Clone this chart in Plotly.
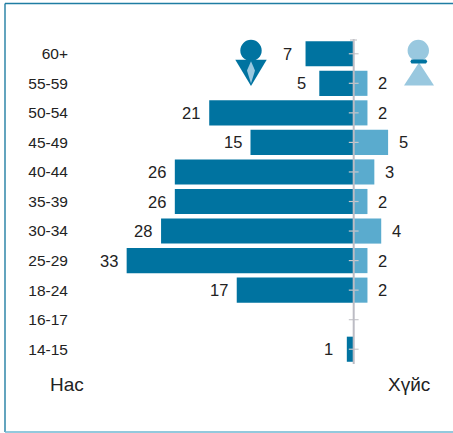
import plotly.graph_objects as go

ages = ["60+", "55-59", "50-54", "45-49", "40-44", "35-39", "30-34", "25-29", "18-24", "16-17", "14-15"]
male = [7, 5, 21, 15, 26, 26, 28, 33, 17, 0, 1]
female = [0, 2, 2, 5, 3, 2, 4, 2, 2, 0, 0]

W, H = 453, 433
PL = 72
X0 = 353.7
SCALE = 6.88
TOP, BOT = 38.5, 364
DARK, MID, LIGHT = "#0073a0", "#5aabce", "#99c8df"
TXT = "#222222"
FONT = "Liberation Sans, Arial, sans-serif"


def px(x):
    return (x - PL) / (W - PL)


def py(y):
    return (BOT - y) / (BOT - TOP)


def path(points):
    return "M " + " L ".join(f"{px(a):.5f},{py(b):.5f}" for a, b in points) + " Z"


fig = go.Figure()
fig.add_bar(y=ages, x=[-v for v in male], orientation="h", marker=dict(color=DARK, line=dict(width=0)), width=0.85, hoverinfo="skip")
fig.add_bar(y=ages, x=female, orientation="h", marker=dict(color=MID, line=dict(width=0)), width=0.85, hoverinfo="skip")
fig.add_scatter(y=ages, x=[0] * len(ages), mode="markers", marker=dict(symbol="line-ew", size=7, line=dict(color="#c8c8cc", width=1.2)), hoverinfo="skip")

P = dict(xref="paper", yref="paper")
shapes = []
shapes.append(dict(type="line", xref="x", yref="paper", x0=0, x1=0, y0=py(BOT), y1=py(TOP), line=dict(color="#bcbcc4", width=2), layer="above"))
shapes.append(dict(type="line", **P, x0=px(350), x1=px(357), y0=py(39.5), y1=py(39.5), line=dict(color="#c8c8cc", width=1.2)))
# male icon
shapes.append(dict(type="circle", **P, x0=px(240.3), x1=px(261.7), y0=py(60.7), y1=py(39.3), fillcolor=DARK, line_width=0))
shapes.append(dict(type="path", **P, path=path([(235.3, 59.3), (266.7, 59.3), (251, 85.5)]), fillcolor=DARK, line_width=0))
shapes.append(dict(type="path", **P, path=path([(251, 60.7), (255, 70), (251, 83), (247, 70)]), fillcolor=LIGHT, line_width=0))
# female icon
shapes.append(dict(type="circle", **P, x0=px(407.6), x1=px(429), y0=py(60.7), y1=py(39.3), fillcolor=LIGHT, line_width=0))
shapes.append(dict(type="path", **P, path=path([(419, 62), (434, 85), (404, 85)]), fillcolor=LIGHT, line_width=0))
shapes.append(dict(type="path", **P, path=path([(411.5, 59), (426, 59), (427.3, 61), (426, 63), (411.5, 63), (410.3, 61)]), fillcolor=DARK, line_width=0))
# frame
shapes.append(dict(type="line", **P, x0=px(5), x1=px(5), y0=py(432), y1=py(3), line=dict(color="#2f86a8", width=1.5)))
shapes.append(dict(type="line", **P, x0=px(5), x1=px(453), y0=py(3), y1=py(3), line=dict(color="#1f7da3", width=1.5)))
shapes.append(dict(type="line", **P, x0=px(5), x1=px(453), y0=py(432), y1=py(432), line=dict(color="#6fb7d2", width=1.5)))

annotations = []
for a, v in zip(ages, male):
    if v:
        annotations.append(dict(x=-v, y=a, text=str(v), showarrow=False, xanchor="center", xshift=-18, font=dict(size=16.5, color=TXT, family=FONT)))
for a, v in zip(ages, female):
    if v:
        annotations.append(dict(x=v, y=a, text=str(v), showarrow=False, xanchor="center", xshift=15, font=dict(size=16.5, color=TXT, family=FONT)))
annotations.append(dict(**P, x=px(66.5), y=py(385), xanchor="center", yanchor="middle", text="Нас", showarrow=False, font=dict(size=19, color=TXT, family=FONT)))
annotations.append(dict(**P, x=px(409), y=py(385), xanchor="center", yanchor="middle", text="Хүйс", showarrow=False, font=dict(size=19, color=TXT, family=FONT)))

fig.update_layout(
    width=W, height=H, autosize=False,
    margin=dict(l=PL, r=0, t=TOP, b=H - BOT, pad=0),
    barmode="overlay", showlegend=False, plot_bgcolor="white", paper_bgcolor="white",
    shapes=shapes, annotations=annotations,
    xaxis=dict(range=[(PL - X0) / SCALE, (W - X0) / SCALE], visible=False, fixedrange=True),
    yaxis=dict(autorange=False, range=[10.5, -0.5], type="category", categoryorder="array", categoryarray=ages,
               showgrid=False, zeroline=False, showline=False, ticks="", ticklabelstandoff=3,
               tickfont=dict(size=15.5, color=TXT, family=FONT), fixedrange=True),
)
fig.write_html("out.html", config={"displayModeBar": False}, post_script="document.body.style.margin='0';document.body.style.overflow='hidden';")
